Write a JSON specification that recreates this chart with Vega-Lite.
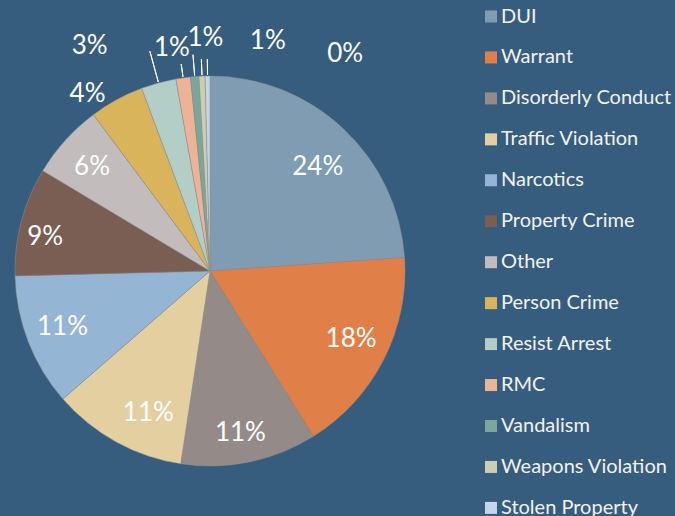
{
  "$schema": "https://vega.github.io/schema/vega-lite/v6.json",
  "width": 420,
  "height": 390,
  "autosize": {"type": "none"},
  "padding": {"left": 0, "top": 76, "right": 255, "bottom": 50},
  "background": "#365D7E",
  "config": {"view": {"stroke": null}, "font": "Lato"},
  "data": {
    "values": [
      {"category": "DUI", "value": 23.9, "label": "24%"},
      {"category": "Warrant", "value": 17.2, "label": "18%"},
      {"category": "Disorderly Conduct", "value": 11.3, "label": "11%"},
      {"category": "Traffic Violation", "value": 11.2, "label": "11%"},
      {"category": "Narcotics", "value": 11.0, "label": "11%"},
      {"category": "Property Crime", "value": 9.0, "label": "9%"},
      {"category": "Other", "value": 6.2, "label": "6%"},
      {"category": "Person Crime", "value": 4.5, "label": "4%"},
      {"category": "Resist Arrest", "value": 2.9, "label": "3%"},
      {"category": "RMC", "value": 1.2, "label": "1%"},
      {"category": "Vandalism", "value": 0.7, "label": "1%"},
      {"category": "Weapons Violation", "value": 0.5, "label": "1%"},
      {"category": "Stolen Property", "value": 0.4, "label": "0%"}
    ]
  },
  "encoding": {
    "theta": {"field": "value", "type": "quantitative", "stack": true},
    "order": {"field": "value", "type": "quantitative", "sort": "descending"},
    "color": {
      "field": "category",
      "type": "nominal",
      "scale": {
        "domain": ["DUI", "Warrant", "Disorderly Conduct", "Traffic Violation", "Narcotics", "Property Crime", "Other", "Person Crime", "Resist Arrest", "RMC", "Vandalism", "Weapons Violation", "Stolen Property"],
        "range": ["#7F9CB3", "#E07F47", "#948B89", "#E4CFA1", "#94B6D4", "#7A5E54", "#C3BCBC", "#DAB45B", "#B2CEC6", "#EDB397", "#7CA69A", "#CDCDB2", "#C4D6E7"]
      },
      "legend": {
        "title": null,
        "orient": "none",
        "legendX": 481,
        "legendY": -69.5,
        "padding": 0,
        "symbolType": "square",
        "symbolSize": 144,
        "symbolStrokeWidth": 0,
        "labelFontSize": 20,
        "labelFont": "Lato",
        "labelColor": "#F2F2F2",
        "labelOffset": 0,
        "labelLimit": 300,
        "rowPadding": 20.95
      }
    }
  },
  "layer": [
    {"mark": {"type": "arc", "outerRadius": 195, "stroke": "#8f8f8f", "strokeWidth": 0.5}},
    {
      "mark": {"type": "arc", "innerRadius": 196, "outerRadius": 228, "padAngle": 1, "stroke": "#FFFFFF", "strokeWidth": 1, "fillOpacity": 0},
      "encoding": {"color": {"value": "#FFFFFF"}, "opacity": {"condition": {"test": "datum.category === 'Resist Arrest'", "value": 1}, "value": 0}}
    },
    {
      "mark": {"type": "arc", "innerRadius": 196, "outerRadius": 209, "padAngle": 1, "stroke": "#FFFFFF", "strokeWidth": 1, "fillOpacity": 0},
      "encoding": {"color": {"value": "#FFFFFF"}, "opacity": {"condition": {"test": "datum.category === 'RMC'", "value": 1}, "value": 0}}
    },
    {
      "mark": {"type": "arc", "innerRadius": 196, "outerRadius": 217, "padAngle": 1, "stroke": "#FFFFFF", "strokeWidth": 1, "fillOpacity": 0},
      "encoding": {"color": {"value": "#FFFFFF"}, "opacity": {"condition": {"test": "datum.category === 'Vandalism'", "value": 1}, "value": 0}}
    },
    {
      "mark": {"type": "arc", "innerRadius": 196, "outerRadius": 212, "padAngle": 1, "stroke": "#FFFFFF", "strokeWidth": 1, "fillOpacity": 0},
      "encoding": {"color": {"value": "#FFFFFF"}, "opacity": {"condition": {"test": "datum.category === 'Weapons Violation'", "value": 1}, "value": 0}}
    },
    {
      "mark": {"type": "arc", "innerRadius": 196, "outerRadius": 212, "padAngle": 1, "stroke": "#FFFFFF", "strokeWidth": 1, "fillOpacity": 0},
      "encoding": {"color": {"value": "#FFFFFF"}, "opacity": {"condition": {"test": "datum.category === 'Stolen Property'", "value": 1}, "value": 0}}
    },
    {
      "mark": {"type": "text", "radius": 155, "fontSize": 26, "dx": 2, "dy": 9},
      "encoding": {"color": {"value": "#FFFFFF"}, "text": {"field": "label"}, "opacity": {"condition": {"test": "datum.category === 'DUI'", "value": 1}, "value": 0}}
    },
    {
      "mark": {"type": "text", "radius": 155, "fontSize": 26, "dx": 3, "dy": -2},
      "encoding": {"color": {"value": "#FFFFFF"}, "text": {"field": "label"}, "opacity": {"condition": {"test": "datum.category === 'Warrant'", "value": 1}, "value": 0}}
    },
    {
      "mark": {"type": "text", "radius": 155, "fontSize": 26, "dx": -1, "dy": 10},
      "encoding": {"color": {"value": "#FFFFFF"}, "text": {"field": "label"}, "opacity": {"condition": {"test": "datum.category === 'Disorderly Conduct'", "value": 1}, "value": 0}}
    },
    {
      "mark": {"type": "text", "radius": 155, "fontSize": 26, "dx": 13, "dy": 6},
      "encoding": {"color": {"value": "#FFFFFF"}, "text": {"field": "label"}, "opacity": {"condition": {"test": "datum.category === 'Traffic Violation'", "value": 1}, "value": 0}}
    },
    {
      "mark": {"type": "text", "radius": 155, "fontSize": 26, "dx": -3, "dy": 0},
      "encoding": {"color": {"value": "#FFFFFF"}, "text": {"field": "label"}, "opacity": {"condition": {"test": "datum.category === 'Narcotics'", "value": 1}, "value": 0}}
    },
    {
      "mark": {"type": "text", "radius": 155, "fontSize": 26, "dx": -15, "dy": 5},
      "encoding": {"color": {"value": "#FFFFFF"}, "text": {"field": "label"}, "opacity": {"condition": {"test": "datum.category === 'Property Crime'", "value": 1}, "value": 0}}
    },
    {
      "mark": {"type": "text", "radius": 155, "fontSize": 26, "dx": -3, "dy": 0},
      "encoding": {"color": {"value": "#FFFFFF"}, "text": {"field": "label"}, "opacity": {"condition": {"test": "datum.category === 'Other'", "value": 1}, "value": 0}}
    },
    {
      "mark": {"type": "text", "radius": 216, "fontSize": 26, "dx": -19, "dy": 13},
      "encoding": {"color": {"value": "#FFFFFF"}, "text": {"field": "label"}, "opacity": {"condition": {"test": "datum.category === 'Person Crime'", "value": 1}, "value": 0}}
    },
    {
      "mark": {"type": "text", "radius": 225, "fontSize": 26, "dx": -61, "dy": -8},
      "encoding": {"color": {"value": "#FFFFFF"}, "text": {"field": "label"}, "opacity": {"condition": {"test": "datum.category === 'Resist Arrest'", "value": 1}, "value": 0}}
    },
    {
      "mark": {"type": "text", "radius": 225, "fontSize": 26, "dx": -7, "dy": 0},
      "encoding": {"color": {"value": "#FFFFFF"}, "text": {"field": "label"}, "opacity": {"condition": {"test": "datum.category === 'RMC'", "value": 1}, "value": 0}}
    },
    {
      "mark": {"type": "text", "radius": 225, "fontSize": 26, "dx": 13, "dy": -9},
      "encoding": {"color": {"value": "#FFFFFF"}, "text": {"field": "label"}, "opacity": {"condition": {"test": "datum.category === 'Vandalism'", "value": 1}, "value": 0}}
    },
    {
      "mark": {"type": "text", "radius": 225, "fontSize": 26, "dx": 67, "dy": -5},
      "encoding": {"color": {"value": "#FFFFFF"}, "text": {"field": "label"}, "opacity": {"condition": {"test": "datum.category === 'Weapons Violation'", "value": 1}, "value": 0}}
    },
    {
      "mark": {"type": "text", "radius": 225, "fontSize": 26, "dx": 138, "dy": 8},
      "encoding": {"color": {"value": "#FFFFFF"}, "text": {"field": "label"}, "opacity": {"condition": {"test": "datum.category === 'Stolen Property'", "value": 1}, "value": 0}}
    }
  ]
}
